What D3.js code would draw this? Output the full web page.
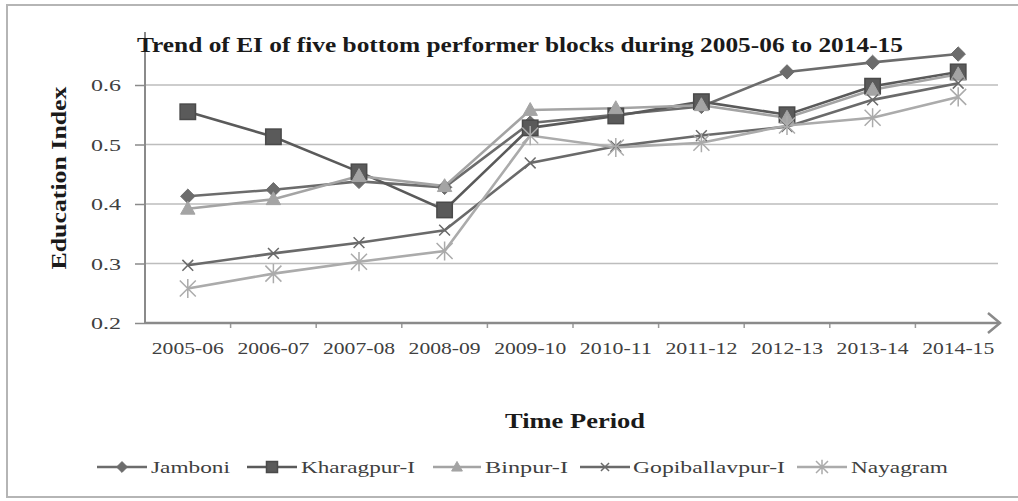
<!DOCTYPE html>
<html><head><meta charset="utf-8">
<script src="https://cdn.jsdelivr.net/npm/d3@7"></script>
<style>html,body{margin:0;padding:0;background:#fff;}svg{display:block;}</style>
</head><body>
<script>
const categories = ["2005-06","2006-07","2007-08","2008-09","2009-10","2010-11","2011-12","2012-13","2013-14","2014-15"];
const jamboni      = [0.413,0.424,0.438,0.428,0.536,0.550,0.564,0.622,0.638,0.652];
const kharagpur    = [0.555,0.513,0.454,0.390,0.528,0.548,0.572,0.550,0.598,0.622];
const binpur       = [0.392,0.408,0.447,0.430,0.558,0.561,0.566,0.545,0.592,0.618];
const gopiballavpur= [0.297,0.317,0.335,0.356,0.469,0.497,0.515,0.530,0.575,0.603];
const nayagram     = [0.258,0.283,0.303,0.321,0.515,0.495,0.503,0.532,0.545,0.580];
const seriesNames  = ["Jamboni","Kharagpur-I","Binpur-I","Gopiballavpur-I","Nayagram"];
const yTicks = [0.2,0.3,0.4,0.5,0.6];

const series = [
  {name: seriesNames[0], values: jamboni,       color:"#6c6c6c", marker:"diamond"},
  {name: seriesNames[1], values: kharagpur,     color:"#5a5a5a", marker:"square"},
  {name: seriesNames[2], values: binpur,        color:"#a4a4a4", marker:"triangle"},
  {name: seriesNames[3], values: gopiballavpur, color:"#6a6a6a", marker:"x"},
  {name: seriesNames[4], values: nayagram,      color:"#ababab", marker:"star"}
];

const W = 1018, H = 501;
const svg = d3.select("body").append("svg").attr("width", W).attr("height", H);
const serif = "'Liberation Serif','DejaVu Serif',serif";

// outer frame
svg.append("rect").attr("x",7).attr("y",5).attr("width",1014).attr("height",492)
  .attr("fill","none").attr("stroke","#b5b5b5").attr("stroke-width",2);

const x = d3.scaleBand().domain(categories).range([145, 1001]).paddingInner(0).paddingOuter(0);
const y = d3.scaleLinear().domain([0.2, 0.6]).range([323, 85]);
const cx = c => x(c) + x.bandwidth()/2;

// gridlines
svg.append("g").selectAll("line").data(yTicks.slice(1)).join("line")
  .attr("x1",145).attr("x2",998).attr("y1",d=>y(d)).attr("y2",d=>y(d))
  .attr("stroke","#bdbdbd").attr("stroke-width",1.5);

// y axis
const yAxis = svg.append("g").attr("transform","translate(145,0)")
  .call(d3.axisLeft(y).tickValues(yTicks).tickSize(10).tickSizeOuter(0).tickFormat(d3.format(".1f")));
yAxis.select(".domain").remove();
yAxis.selectAll(".tick line").attr("stroke","#8a8a8a").attr("stroke-width",1.5);
yAxis.selectAll(".tick text").attr("x",-24).attr("font-family",serif).attr("font-size",17)
  .attr("fill","#404040").attr("textLength",30).attr("lengthAdjust","spacingAndGlyphs").attr("dy","0.35em");
svg.append("line").attr("x1",145).attr("x2",145).attr("y1",32).attr("y2",323)
  .attr("stroke","#8a8a8a").attr("stroke-width",2);

// x axis
const xAxis = svg.append("g").attr("transform","translate(0,323)")
  .call(d3.axisBottom(x).tickSize(0).tickSizeOuter(0));
xAxis.select(".domain").remove();
xAxis.selectAll(".tick text").attr("y",31).attr("font-family",serif).attr("font-size",16)
  .attr("fill","#404040").attr("textLength",72).attr("lengthAdjust","spacingAndGlyphs").attr("dy","0");
svg.append("g").selectAll("line").data(categories.slice(1)).join("line")
  .attr("x1",d=>x(d)).attr("x2",d=>x(d)).attr("y1",323).attr("y2",328)
  .attr("stroke","#9a9a9a").attr("stroke-width",1.5);
svg.append("line").attr("x1",145).attr("x2",1000).attr("y1",323).attr("y2",323)
  .attr("stroke","#8a8a8a").attr("stroke-width",2.5);
svg.append("path").attr("d","M988,313 L1000,323 L988,333")
  .attr("fill","none").attr("stroke","#8a8a8a").attr("stroke-width",2.5);

// markers
function drawMarker(g, type, color, size){
  const s = size;
  if(type==="diamond"){
    g.append("path").attr("d",`M0,${-s*0.6} L${s*0.6},0 L0,${s*0.6} L${-s*0.6},0 Z`).attr("fill",color).attr("stroke",color).attr("stroke-width",1);
  } else if(type==="square"){
    g.append("rect").attr("x",-s*0.55).attr("y",-s*0.55).attr("width",s*1.1).attr("height",s*1.1).attr("fill",color).attr("stroke","#4a4a4a").attr("stroke-width",1.5);
  } else if(type==="triangle"){
    g.append("path").attr("d",`M0,${-s*0.62} L${s*0.6},${s*0.45} L${-s*0.6},${s*0.45} Z`).attr("fill",color).attr("stroke",color).attr("stroke-width",1);
  } else if(type==="x"){
    g.append("path").attr("d",`M${-s*0.45},${-s*0.45} L${s*0.45},${s*0.45} M${-s*0.45},${s*0.45} L${s*0.45},${-s*0.45}`).attr("stroke",color).attr("stroke-width",1.5);
  } else if(type==="star"){
    g.append("path").attr("d",`M${-s*0.5},${-s*0.5} L${s*0.5},${s*0.5} M${-s*0.5},${s*0.5} L${s*0.5},${-s*0.5} M0,${-s*0.6} L0,${s*0.6}`).attr("stroke",color).attr("stroke-width",1.5);
  }
}

const line = d3.line().x((d,i)=>cx(categories[i])).y(d=>y(d));
const plot = svg.append("g");
series.forEach(s=>{
  plot.append("path").datum(s.values).attr("d",line).attr("fill","none")
    .attr("stroke",s.color).attr("stroke-width",2.6);
});
series.forEach(s=>{
  s.values.forEach((v,i)=>{
    const g = plot.append("g").attr("transform",`translate(${cx(categories[i])},${y(v)})`);
    drawMarker(g, s.marker, s.color, s.marker==="square"?14:(s.marker==="star"?16:12));
  });
});

// title
svg.append("text").attr("x",137).attr("y",52).attr("font-family",serif).attr("font-weight","bold")
  .attr("font-size",20).attr("fill","#1a1a1a").attr("textLength",766).attr("lengthAdjust","spacingAndGlyphs")
  .text("Trend of EI of five bottom performer blocks during 2005-06 to 2014-15");

// axis titles
svg.append("text").attr("transform","translate(66,178) rotate(-90)").attr("text-anchor","middle")
  .attr("font-family",serif).attr("font-weight","bold").attr("font-size",21).attr("fill","#1a1a1a")
  .attr("textLength",183).attr("lengthAdjust","spacingAndGlyphs").text("Education Index");
svg.append("text").attr("x",575).attr("y",428).attr("text-anchor","middle")
  .attr("font-family",serif).attr("font-weight","bold").attr("font-size",21).attr("fill","#1a1a1a")
  .attr("textLength",140).attr("lengthAdjust","spacingAndGlyphs").text("Time Period");

// legend
const legendPos = [
  {lx1:97, lx2:147, tx:151, tw:79},
  {lx1:247, lx2:297, tx:301, tw:114},
  {lx1:433, lx2:481, tx:485, tw:83},
  {lx1:580, lx2:630, tx:633, tw:152},
  {lx1:797, lx2:847, tx:851, tw:97}
];
const leg = svg.append("g");
series.forEach((s,i)=>{
  const p = legendPos[i], ly = 467;
  leg.append("line").attr("x1",p.lx1).attr("x2",p.lx2).attr("y1",ly).attr("y2",ly)
    .attr("stroke",s.color).attr("stroke-width",2.6);
  const g = leg.append("g").attr("transform",`translate(${(p.lx1+p.lx2)/2},${ly})`);
  drawMarker(g, s.marker, s.color, s.marker==="square"?10:(s.marker==="star"?12:9));
  leg.append("text").attr("x",p.tx).attr("y",ly+6).attr("font-family",serif).attr("font-size",17)
    .attr("fill","#404040").attr("textLength",p.tw).attr("lengthAdjust","spacingAndGlyphs").text(s.name);
});
</script>
</body></html>
